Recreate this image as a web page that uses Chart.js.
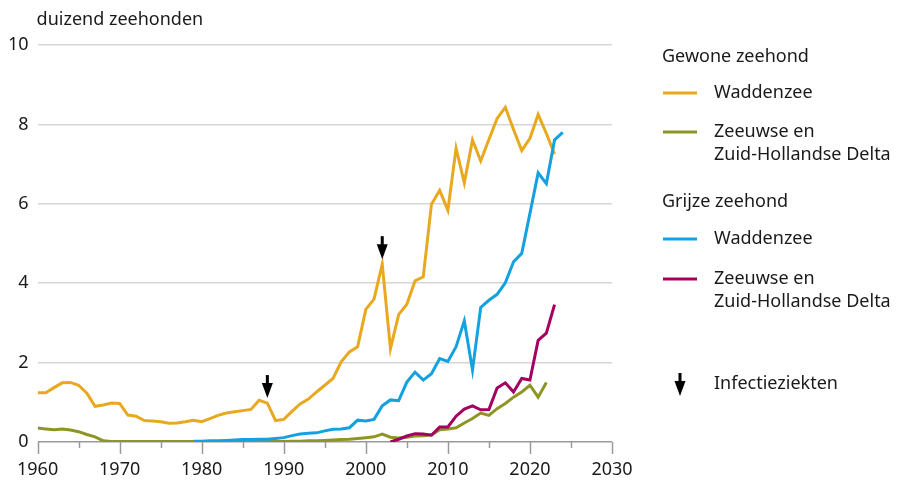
<!DOCTYPE html>
<html lang="nl">
<head>
<meta charset="utf-8">
<script src="https://cdn.jsdelivr.net/npm/chart.js@4/dist/chart.umd.min.js"></script>
<style>
html,body{margin:0;padding:0;background:#fff;}
canvas{display:block;}
</style>
</head>
<body>
<canvas id="c" width="897" height="486"></canvas>
<script>
// Tellingen in duizenden dieren per jaar
const jaren = [
  1960,1961,1962,1963,1964,1965,1966,1967,1968,1969,
  1970,1971,1972,1973,1974,1975,1976,1977,1978,1979,
  1980,1981,1982,1983,1984,1985,1986,1987,1988,1989,
  1990,1991,1992,1993,1994,1995,1996,1997,1998,1999,
  2000,2001,2002,2003,2004,2005,2006,2007,2008,2009,
  2010,2011,2012,2013,2014,2015,2016,2017,2018,2019,
  2020,2021,2022,2023,2024
];

const gewoneWaddenzee = [
  1.24,1.24,1.37,1.49,1.50,1.43,1.23,0.90,0.93,0.98,
  0.97,0.68,0.65,0.54,0.53,0.51,0.47,0.48,0.51,0.55,
  0.51,0.59,0.67,0.73,0.76,0.79,0.82,1.05,0.98,0.54,
  0.57,0.77,0.96,1.08,1.26,1.43,1.60,2.02,2.27,2.40,
  3.34,3.60,4.48,2.35,3.21,3.47,4.06,4.16,5.99,6.34,
  5.84,7.40,6.53,7.61,7.08,7.62,8.15,8.43,7.87,7.34,
  7.65,8.25,7.77,7.25,null
];

const gewoneDelta = [
  0.35,0.33,0.31,0.33,0.30,0.26,0.19,0.13,0.03,0.01,
  0.01,0.01,0.01,0.01,0.01,0.01,0.01,0.01,0.01,0.01,
  0.01,0.01,0.01,0.01,0.01,0.01,0.01,0.01,0.01,0.01,
  0.01,0.02,0.02,0.03,0.03,0.04,0.05,0.06,0.07,0.09,
  0.11,0.13,0.20,0.12,0.10,0.12,0.15,0.16,0.18,0.31,
  0.33,0.36,0.48,0.59,0.73,0.67,0.84,0.97,1.13,1.26,
  1.43,1.13,1.50,null,null
];

const grijzeWaddenzee = [
  null,null,null,null,null,null,null,null,null,null,
  null,null,null,null,null,null,null,null,null,0.02,
  0.02,0.03,0.03,0.04,0.05,0.06,0.06,0.07,0.07,0.09,
  0.11,0.16,0.20,0.22,0.23,0.28,0.32,0.33,0.36,0.55,
  0.53,0.57,0.91,1.06,1.04,1.51,1.76,1.56,1.72,2.10,
  2.03,2.40,3.05,1.81,3.39,3.57,3.72,4.01,4.54,4.75,
  5.76,6.78,6.51,7.61,7.80
];

const grijzeDelta = [
  null,null,null,null,null,null,null,null,null,null,
  null,null,null,null,null,null,null,null,null,null,
  null,null,null,null,null,null,null,null,null,null,
  null,null,null,null,null,null,null,null,null,null,
  null,null,null,0.00,0.07,0.15,0.21,0.20,0.17,0.38,
  0.38,0.65,0.83,0.91,0.81,0.82,1.36,1.49,1.26,1.60,
  1.56,2.56,2.74,3.46,null
];

// Jaren met een uitbraak van een infectieziekte (pijlen boven de gewone zeehond, Waddenzee)
const infectieJaren = [1988, 2002];

const yTicks = [0, 2, 4, 6, 8, 10];
const xTicks = [1960, 1970, 1980, 1990, 2000, 2010, 2020, 2030];

const eenheid = 'duizend zeehonden';
const soorten = ['Gewone zeehond', 'Grijze zeehond'];
const gebieden = ['Waddenzee', 'Zeeuwse en\nZuid-Hollandse Delta'];
const infectieLabel = 'Infectieziekten';

const kleuren = {
  gewoneWaddenzee: '#e8a920',
  gewoneDelta: '#8d9625',
  grijzeWaddenzee: '#13a1e0',
  grijzeDelta: '#a3005f'
};

const FONT = '"Noto Sans", "Open Sans", sans-serif';
const FS = 18;
const TXT = '#1a1a1a';

function punten(waarden) {
  return jaren.map((j, i) => ({ x: j, y: waarden[i] }));
}

function lijn(label, waarden, kleur, volgorde) {
  return {
    label,
    data: punten(waarden),
    borderColor: kleur,
    backgroundColor: kleur,
    borderWidth: 3,
    pointRadius: 0,
    pointHoverRadius: 0,
    tension: 0,
    spanGaps: false,
    order: volgorde
  };
}

function pijl(ctx, x, tip) {
  // schacht + smalle driehoekige punt
  ctx.save();
  ctx.fillStyle = '#000';
  ctx.fillRect(x - 1.5, tip - 23, 3, 9);
  ctx.beginPath();
  ctx.moveTo(x - 5.5, tip - 15);
  ctx.lineTo(x + 5.5, tip - 15);
  ctx.lineTo(x, tip);
  ctx.closePath();
  ctx.fill();
  ctx.restore();
}

const decor = {
  id: 'decor',
  afterDraw(chart) {
    const ctx = chart.ctx;
    const xs = chart.scales.x;
    const ys = chart.scales.y;
    const area = chart.chartArea;

    // tick-streepjes op de x-as: lang per 10 jaar, kort per 5 jaar
    ctx.save();
    ctx.strokeStyle = '#9a9a9a';
    ctx.lineWidth = 1.5;
    for (let v = xs.min; v <= xs.max; v += 5) {
      const px = Math.round(xs.getPixelForValue(v)) + 0.5;
      const len = (v % 10 === 0) ? 12 : 6;
      ctx.beginPath();
      ctx.moveTo(px, area.bottom);
      ctx.lineTo(px, area.bottom + len);
      ctx.stroke();
    }
    ctx.restore();

    // eenheid boven de y-as
    ctx.save();
    ctx.font = FS + 'px ' + FONT;
    ctx.fillStyle = TXT;
    ctx.textBaseline = 'middle';
    ctx.textAlign = 'left';
    ctx.fillText(eenheid, area.left - 1, 20);
    ctx.restore();

    // pijlen bij de infectiejaren
    infectieJaren.forEach(j => {
      const i = jaren.indexOf(j);
      const px = xs.getPixelForValue(j);
      const py = ys.getPixelForValue(gewoneWaddenzee[i]);
      pijl(ctx, px, py - 5);
    });

    // legenda rechts
    const ds = chart.data.datasets;
    const lx = 663, tx = 714;
    const items = [
      { kop: soorten[0], y: 57 },
      { ds: 0, y: 93 },
      { ds: 1, y: 132 },
      { kop: soorten[1], y: 202 },
      { ds: 2, y: 239 },
      { ds: 3, y: 279 }
    ];
    ctx.save();
    ctx.font = FS + 'px ' + FONT;
    ctx.fillStyle = TXT;
    ctx.textBaseline = 'middle';
    ctx.textAlign = 'left';
    items.forEach(it => {
      if (it.kop) {
        ctx.fillText(it.kop, lx - 1, it.y);
      } else {
        const d = ds[it.ds];
        ctx.strokeStyle = d.borderColor;
        ctx.lineWidth = 3;
        ctx.beginPath();
        ctx.moveTo(lx, it.y);
        ctx.lineTo(lx + 34, it.y);
        ctx.stroke();
        d.label.split('\n').forEach((r, k) => {
          ctx.fillText(r, tx, it.y + k * 23);
        });
      }
    });
    pijl(ctx, 680, 396);
    ctx.fillText(infectieLabel, tx, 384);
    ctx.restore();
  }
};

new Chart(document.getElementById('c'), {
  type: 'line',
  data: {
    datasets: [
      lijn(gebieden[0], gewoneWaddenzee, kleuren.gewoneWaddenzee, 2),
      lijn(gebieden[1], gewoneDelta, kleuren.gewoneDelta, 3),
      lijn(gebieden[0], grijzeWaddenzee, kleuren.grijzeWaddenzee, 0),
      lijn(gebieden[1], grijzeDelta, kleuren.grijzeDelta, 1)
    ]
  },
  options: {
    responsive: false,
    animation: false,
    events: [],
    layout: { padding: { top: 45, right: 285, left: 0, bottom: 0 } },
    plugins: {
      legend: { display: false },
      tooltip: { enabled: false },
      title: { display: false }
    },
    scales: {
      x: {
        type: 'linear',
        min: xTicks[0],
        max: xTicks[xTicks.length - 1],
        afterBuildTicks(scale) { scale.ticks = xTicks.map(v => ({ value: v })); },
        afterFit(scale) { scale.height = 44; },
        grid: { display: false, drawTicks: false },
        border: { display: false },
        ticks: {
          padding: 17,
          color: TXT,
          font: { family: FONT, size: FS },
          maxRotation: 0,
          autoSkip: false,
          callback: v => String(v)
        }
      },
      y: {
        min: yTicks[0],
        max: yTicks[yTicks.length - 1],
        afterBuildTicks(scale) { scale.ticks = yTicks.map(v => ({ value: v })); },
        afterFit(scale) { scale.width = 34; },
        grid: {
          drawTicks: false,
          color: c => (c.tick && c.tick.value === 0) ? '#9a9a9a' : '#d6d6d6',
          lineWidth: 1.5
        },
        border: { display: false },
        ticks: {
          padding: 9,
          color: TXT,
          font: { family: FONT, size: FS },
          callback: v => String(v)
        }
      }
    }
  },
  plugins: [decor]
});
</script>
</body>
</html>
